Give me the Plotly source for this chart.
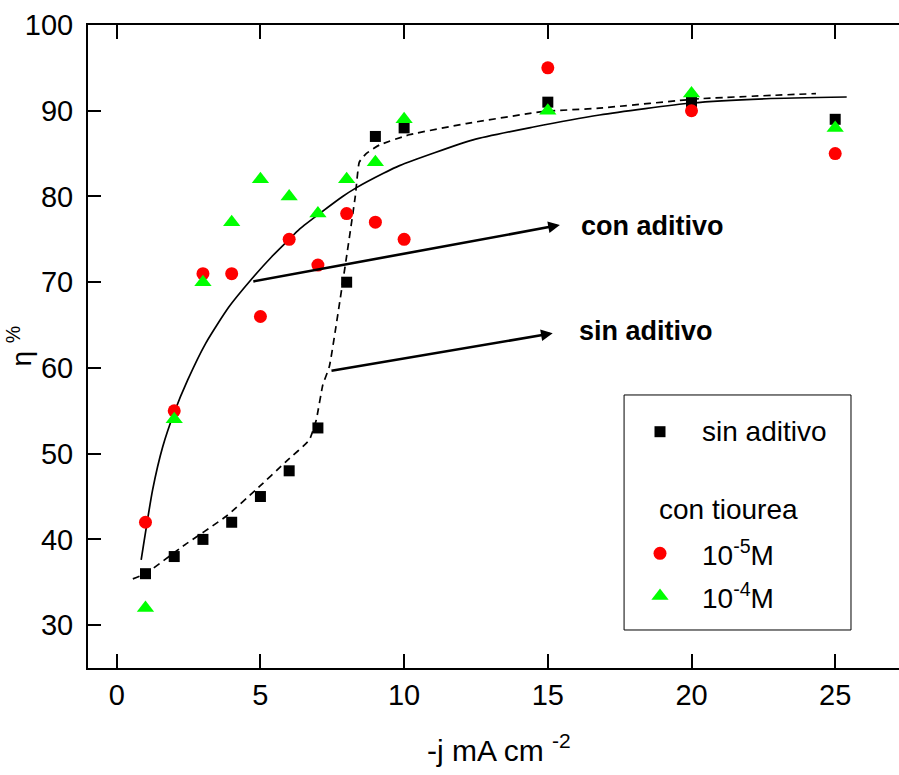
import plotly.graph_objects as go

# ---------------- data ----------------
current = [1, 2, 3, 4, 5, 6, 7, 8, 9, 10, 15, 20, 25]
eff_sin = [36, 38, 40, 42, 45, 48, 53, 70, 87, 88, 91, 91, 89]
eff_1e5 = [42, 55, 71, 71, 66, 75, 72, 78, 77, 75, 95, 90, 85]
eff_1e4 = [32, 54, 70, 77, 82, 80, 78, 82, 84, 89, 90, 92, 88]

# fitted curve (solid, "con aditivo") read point by point
fit_con_x = [0.85, 1.25, 1.6, 2.0, 2.47, 3.1, 3.9, 4.65, 5.4, 6.0, 6.36, 7.86, 8.33, 9.28, 9.84, 12.4, 14.5, 16.8, 20.0, 22.6, 25.4]
fit_con_y = [37.6, 45.8, 50.8, 54.8, 58.6, 62.9, 67.1, 70.2, 73.0, 75.0, 76.2, 80.0, 81.0, 82.7, 83.6, 86.6, 88.1, 89.5, 90.9, 91.4, 91.6]

# fitted curve (dashed, "sin aditivo") read point by point
fit_sin_x = [0.56, 1.0, 2.3, 3.81, 4.85, 5.9, 6.7, 6.94, 7.17, 7.4, 7.98, 8.3, 8.44, 8.68, 9.14, 10.18, 12.16, 14.82, 16.79, 20.28, 24.33]
fit_sin_y = [35.4, 36.0, 39.2, 42.7, 45.8, 49.1, 51.6, 53.9, 58.0, 60.2, 72.6, 80.0, 84.0, 85.0, 86.0, 87.2, 88.5, 89.9, 90.3, 91.4, 92.0]

x_ticks = [0, 5, 10, 15, 20, 25]
y_ticks = [30, 40, 50, 60, 70, 80, 90, 100]

BLACK = "#000000"
RED = "#FF0000"
GREEN = "#00FF00"
FONT = "Arial, Liberation Sans, sans-serif"

fig = go.Figure()

fig.add_trace(go.Scatter(x=fit_con_x, y=fit_con_y, mode="lines",
                         line=dict(color=BLACK, width=1.7, shape="spline", smoothing=0.6),
                         showlegend=False, hoverinfo="skip"))
fig.add_trace(go.Scatter(x=fit_sin_x, y=fit_sin_y, mode="lines",
                         line=dict(color=BLACK, width=1.7, dash="7px,5px", shape="spline", smoothing=0.4),
                         showlegend=False, hoverinfo="skip"))

fig.add_trace(go.Scatter(x=current, y=eff_sin, mode="markers", name="sin aditivo",
                         marker=dict(symbol="square", size=11, color=BLACK, line=dict(width=0)),
                         showlegend=False))
fig.add_trace(go.Scatter(x=current, y=eff_1e5, mode="markers", name="10-5M",
                         marker=dict(symbol="circle", size=13, color=RED, line=dict(width=0)),
                         showlegend=False))
fig.add_trace(go.Scatter(x=current, y=eff_1e4, mode="markers", name="10-4M",
                         marker=dict(symbol="triangle-up", size=15, color=GREEN, line=dict(width=0)),
                         showlegend=False))

# legend swatches on an overlay paper-like axis
leg_x = [0.7053, 0.7053, 0.7053]
leg_y = [0.3675, 0.1784, 0.112]
fig.add_trace(go.Scatter(x=leg_x[:1], y=leg_y[:1], xaxis="x3", yaxis="y3", mode="markers",
                         marker=dict(symbol="square", size=11, color=BLACK), showlegend=False, hoverinfo="skip"))
fig.add_trace(go.Scatter(x=leg_x[1:2], y=leg_y[1:2], xaxis="x3", yaxis="y3", mode="markers",
                         marker=dict(symbol="circle", size=13, color=RED), showlegend=False, hoverinfo="skip"))
fig.add_trace(go.Scatter(x=leg_x[2:], y=leg_y[2:], xaxis="x3", yaxis="y3", mode="markers",
                         marker=dict(symbol="triangle-up", size=15, color=GREEN), showlegend=False, hoverinfo="skip"))

W, H = 899, 775
fig.update_layout(
    width=W, height=H,
    margin=dict(l=88, r=0, t=25, b=107, pad=0),
    paper_bgcolor="white", plot_bgcolor="white",
    font=dict(family=FONT, color=BLACK, size=29),
    showlegend=False,
    xaxis=dict(range=[-1, 27.22], tickvals=x_ticks, ticks="inside", ticklen=14, tickwidth=2,
               tickcolor=BLACK, showline=True, linewidth=2, linecolor=BLACK, mirror="ticks",
               showgrid=False, zeroline=False, tickfont=dict(size=29, family=FONT),
               ticklabelstandoff=0, automargin=False),
    yaxis=dict(range=[25, 100], tickvals=y_ticks, ticks="inside", ticklen=13, tickwidth=2,
               tickcolor=BLACK, showline=True, linewidth=2, linecolor=BLACK, mirror=False,
               showgrid=False, zeroline=False, tickfont=dict(size=29, family=FONT),
               ticklabelstandoff=7, automargin=False),
    yaxis2=dict(range=[25, 100], tickvals=y_ticks, overlaying="y", side="right", anchor="x",
                ticks="inside", ticklen=6, tickwidth=2, tickcolor=BLACK, showline=False,
                showticklabels=False, showgrid=False, zeroline=False, automargin=False),
    xaxis3=dict(range=[0, 1], overlaying="x", visible=False, anchor="y3"),
    yaxis3=dict(range=[0, 1], overlaying="y", visible=False, anchor="x3"),
)

# legend box
fig.add_shape(type="rect", xref="paper", yref="paper", x0=0.661, x1=0.9408, y0=0.0591, y1=0.4246,
              line=dict(color=BLACK, width=1), fillcolor="rgba(0,0,0,0)", layer="below")

legend_texts = [
    ("sin aditivo", 0.7546, 0.3675),
    ("con tiourea", 0.7010, 0.2470),
    ("10<sup>-5</sup>M", 0.7546, 0.1784),
    ("10<sup>-4</sup>M", 0.7546, 0.1120),
]
for txt, lx, ly in legend_texts:
    fig.add_annotation(text=txt, xref="paper", yref="paper", x=lx, y=ly, xanchor="left",
                       yanchor="middle", showarrow=False, font=dict(size=28, family=FONT, color=BLACK))

# arrows
fig.add_annotation(x=15.42, y=76.67, ax=4.70, ay=70.06, xref="x", yref="y", axref="x", ayref="y",
                   text="", showarrow=True, arrowhead=2, arrowsize=0.9, arrowwidth=2.6, arrowcolor=BLACK)
fig.add_annotation(x=15.17, y=64.04, ax=7.42, ay=59.64, xref="x", yref="y", axref="x", ayref="y",
                   text="", showarrow=True, arrowhead=2, arrowsize=0.9, arrowwidth=2.6, arrowcolor=BLACK)
fig.add_annotation(text="<b>con aditivo</b>", x=16.1, y=76.5, xref="x", yref="y", xanchor="left",
                   yanchor="middle", showarrow=False, font=dict(size=27, family=FONT, color=BLACK))
fig.add_annotation(text="<b>sin aditivo</b>", x=16.0, y=64.3, xref="x", yref="y", xanchor="left",
                   yanchor="middle", showarrow=False, font=dict(size=27, family=FONT, color=BLACK))

# axis titles
fig.add_annotation(text="-j mA cm <sup>-2</sup>", xref="paper", yref="paper", x=0.507, y=-0.125,
                   xanchor="center", yanchor="middle", showarrow=False,
                   font=dict(size=30, family=FONT, color=BLACK))
fig.add_annotation(text="η <sup>%</sup>", xref="paper", yref="paper", x=-0.085, y=0.5,
                   xanchor="center", yanchor="middle", showarrow=False, textangle=-90,
                   font=dict(size=28, family=FONT, color=BLACK))

fig.write_html(
    "out.html",
    config={"displayModeBar": False},
    post_script="document.body.style.margin='0';document.body.style.padding='0';"
                "document.body.style.overflow='hidden';",
)
